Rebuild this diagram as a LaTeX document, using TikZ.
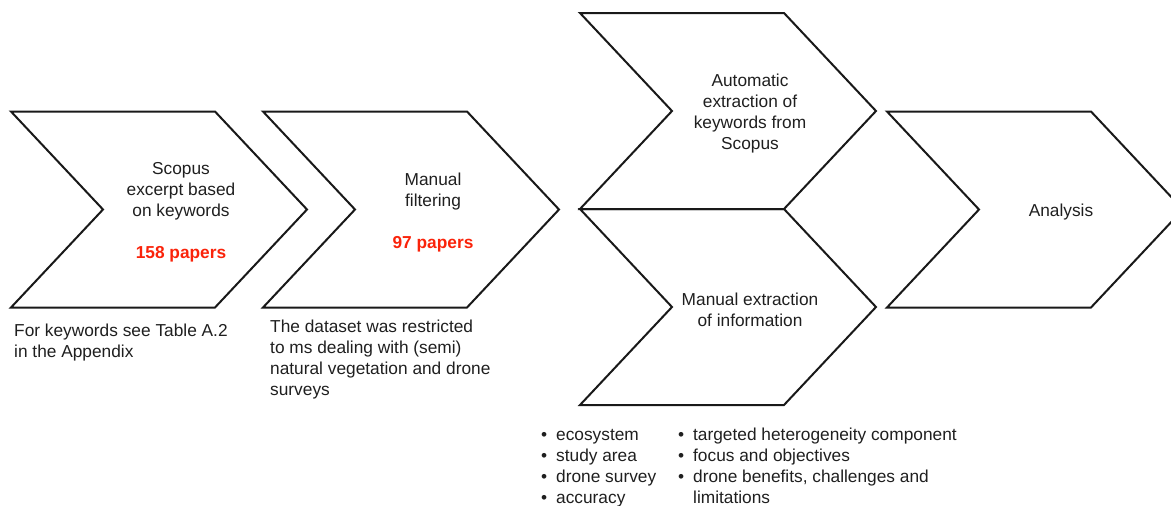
\documentclass[tikz,border=0pt]{standalone}
\usepackage{fontspec}
\setmainfont{Liberation Sans}
\usetikzlibrary{positioning}
\definecolor{paperred}{RGB}{250,35,10}
\tikzset{
  chevron/.style={draw=black!90, line width=2pt, line join=miter},
  stage/.style={align=center, inner sep=0pt, yshift=-3pt, font=\fontsize{17.3}{21}\selectfont, text=black!88},
  note/.style={align=left, anchor=north west, inner sep=0pt, font=\fontsize{17.3}{21}\selectfont, text=black!88},
}
\newcommand{\papers}[1]{\\[21pt]\textcolor{paperred}{\bfseries #1}}
\newcommand{\itm}{\makebox[15pt][l]{\textbullet}}
\begin{document}
\begin{tikzpicture}[x=1pt, y=-1pt]
\useasboundingbox (0,0) rectangle (1171,506);
% chevrons: name/left edge/middle
\foreach \n/\x/\y in {scopus/11/209.5, filter/263/209.5, auto/580/111, manual/580/307, analysis/887/209.5}{
  \draw[chevron] (\x,\y-98) -- ++(204,0) -- ++(92,98) -- ++(-92,98) -- ++(-204,0) -- ++(92,-98) -- cycle;
  \coordinate (\n) at (\x+170,\y);
}
\node[stage] (scopus text) at (scopus) {Scopus\\excerpt based\\on keywords\papers{158 papers}};
\node[stage] (filter text) at (filter) {Manual\\filtering\papers{97 papers}};
\node[stage] (auto text) at (auto) {Automatic\\extraction of\\keywords from\\Scopus};
\node[stage] (manual text) at (manual) {Manual extraction\\of information};
\node[stage] (analysis text) at ([xshift=4pt]analysis) {Analysis};
% notes below
\node[note] (keyword note) at (14,324) {For keywords see Table A.2\\in the Appendix};
\node[note] (dataset note) at (270,320) {The dataset was restricted\\to ms dealing with (semi)\\natural vegetation and drone\\surveys};
\node[note] (info list) at (541,426) {%
  \begin{tabular}{@{}p{137pt}@{}l@{}}
  \itm ecosystem & \itm targeted heterogeneity component\\
  \itm study area & \itm focus and objectives\\
  \itm drone survey & \itm drone benefits, challenges and\\
  \itm accuracy & \hspace{15pt}limitations
  \end{tabular}};
\end{tikzpicture}
\end{document}
